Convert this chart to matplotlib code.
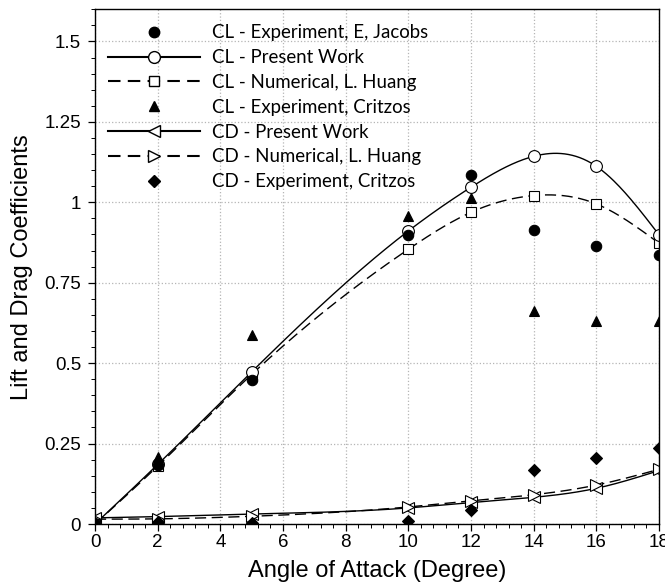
import numpy as np
import matplotlib
matplotlib.use('Agg')
import matplotlib.pyplot as plt
from matplotlib.lines import Line2D
from matplotlib.ticker import MultipleLocator

# angle of attack values
aoa = [0, 2, 5, 10, 12, 14, 16, 18]

# lift coefficients
cl_jacobs = [0.0, 0.182, 0.447, 0.897, 1.086, 0.914, 0.865, 0.835]
cl_present = [0.0, 0.185, 0.473, 0.911, 1.047, 1.143, 1.112, 0.899]
cl_huang = [0.0, 0.180, 0.465, 0.854, 0.969, 1.021, 0.995, 0.873]
cl_critzos = [0.0, 0.208, 0.587, 0.956, 1.013, 0.663, 0.632, 0.632]

# drag coefficients
cd_present = [0.019, 0.023, 0.031, 0.050, 0.067, 0.083, 0.111, 0.166]
cd_huang = [0.015, 0.016, 0.024, 0.053, 0.072, 0.091, 0.121, 0.170]
cd_critzos = [0.0, 0.005, 0.004, 0.010, 0.044, 0.168, 0.205, 0.237]

labels = ['CL - Experiment, E, Jacobs', 'CL - Present Work', 'CL - Numerical, L. Huang',
          'CL - Experiment, Critzos', 'CD - Present Work', 'CD - Numerical, L. Huang',
          'CD - Experiment, Critzos']


def spline(x, y, n=300):
    # natural cubic spline, just for drawing the smooth curve
    x = np.asarray(x, float)
    y = np.asarray(y, float)
    h = np.diff(x)
    nn = len(x)
    A = np.zeros((nn, nn))
    r = np.zeros(nn)
    A[0, 0] = A[-1, -1] = 1
    for i in range(1, nn - 1):
        A[i, i - 1] = h[i - 1]
        A[i, i] = 2 * (h[i - 1] + h[i])
        A[i, i + 1] = h[i]
        r[i] = 3 * ((y[i + 1] - y[i]) / h[i] - (y[i] - y[i - 1]) / h[i - 1])
    c = np.linalg.solve(A, r)
    b = (y[1:] - y[:-1]) / h - h * (2 * c[:-1] + c[1:]) / 3
    d = (c[1:] - c[:-1]) / (3 * h)
    xs = np.linspace(x[0], x[-1], n)
    idx = np.clip(np.searchsorted(x, xs, side='right') - 1, 0, nn - 2)
    dx = xs - x[idx]
    return xs, y[idx] + b[idx] * dx + c[idx] * dx**2 + d[idx] * dx**3


plt.rcParams['font.family'] = ['Liberation Sans', 'DejaVu Sans']

fig = plt.figure(figsize=(6.65, 5.86), dpi=100)
ax = fig.add_axes([0.1429, 0.1058, 0.8481, 0.8783])

dash = (0, (8, 4))
lw = 1.0

# smooth curves
xs, ys = spline(aoa, cl_present)
ax.plot(xs, ys, '-', color='black', lw=lw)
xs, ys = spline(aoa, cl_huang)
ax.plot(xs, ys, linestyle=dash, color='black', lw=lw)
xs, ys = spline(aoa, cd_present)
ax.plot(xs, ys, '-', color='black', lw=lw)
xs, ys = spline(aoa, cd_huang)
ax.plot(xs, ys, linestyle=dash, color='black', lw=lw)

# markers
mk = dict(linestyle='none', color='black', mew=0.8)
ax.plot(aoa, cd_present, marker='<', ms=8, mfc='white', **mk)
ax.plot(aoa, cd_huang, marker='>', ms=8, mfc='white', **mk)
ax.plot(aoa, cl_huang, marker='s', ms=6.5, mfc='white', **mk)
ax.plot(aoa, cl_present, marker='o', ms=8.5, mfc='white', **mk)
ax.plot(aoa, cl_jacobs, marker='o', ms=7.5, **mk)
ax.plot(aoa, cl_critzos, marker='^', ms=6.5, **mk)
ax.plot(aoa, cd_critzos, marker='D', ms=6, **mk)

handles = [
    Line2D([], [], marker='o', ms=7.5, color='black', linestyle='none'),
    Line2D([], [], marker='o', ms=8.5, color='black', mfc='white', lw=1.5),
    Line2D([], [], marker='s', ms=6.5, color='black', mfc='white', lw=1.5, linestyle=(0, (6, 3.5))),
    Line2D([], [], marker='^', ms=6.5, color='black', linestyle='none'),
    Line2D([], [], marker='<', ms=8, color='black', mfc='white', lw=1.5),
    Line2D([], [], marker='>', ms=8, color='black', mfc='white', lw=1.5, linestyle=(0, (6, 3.5))),
    Line2D([], [], marker='D', ms=6, color='black', linestyle='none'),
]
leg = ax.legend(handles, labels, loc='upper left', bbox_to_anchor=(0.023, 0.971),
                frameon=False, borderpad=0, borderaxespad=0, numpoints=1,
                handlelength=4.96, handletextpad=0.65, labelspacing=0.42,
                prop={'family': 'Lato', 'size': 13.4})

ax.set_xlim(0, 18)
ax.set_ylim(0, 1.6)
ax.xaxis.set_major_locator(MultipleLocator(2))
ax.xaxis.set_minor_locator(MultipleLocator(0.4))
ax.yaxis.set_major_locator(MultipleLocator(0.25))
ax.yaxis.set_minor_locator(MultipleLocator(0.05))
ax.set_yticks([0, 0.25, 0.5, 0.75, 1, 1.25, 1.5])
ax.set_yticklabels(['0', '0.25', '0.5', '0.75', '1', '1.25', '1.5'])
ax.tick_params(axis='both', which='major', length=5, width=0.9, labelsize=13.5)
ax.tick_params(axis='both', which='minor', length=3, width=0.7)
ax.tick_params(axis='x', pad=2)
ax.tick_params(axis='y', pad=5)
ax.grid(True, which='major', linestyle=':', color='#b5b5b5', lw=0.9)
for s in ax.spines.values():
    s.set_linewidth(1.0)

ax.set_xlabel('Angle of Attack (Degree)', fontsize=17, labelpad=7)
ax.set_ylabel('Lift and Drag Coefficients', fontsize=17, labelpad=8)

fig.savefig('out.png', dpi=100)
